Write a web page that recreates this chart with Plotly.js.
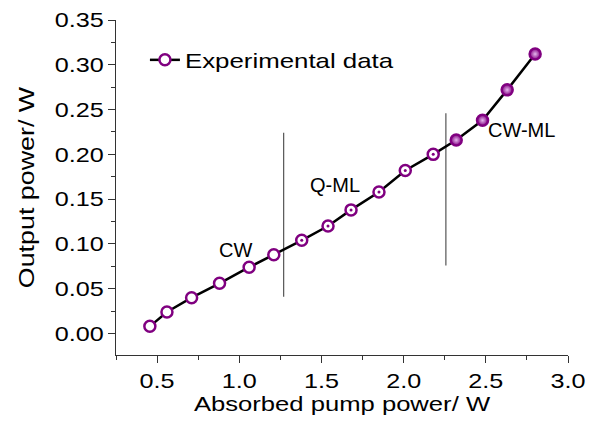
<!DOCTYPE html>
<html>
<head>
<meta charset="utf-8">
<script src="https://cdn.plot.ly/plotly-3.0.1.min.js"></script>
<style>html,body{margin:0;padding:0;background:#fff}#chart{width:596px;height:421px}</style>
</head>
<body>
<div id="chart"></div>
<script>
// Data
const absorbedPump = [0.456, 0.56, 0.71, 0.88, 1.06, 1.21, 1.38, 1.54, 1.68, 1.85, 2.01, 2.18, 2.32, 2.48, 2.63, 2.80];
const outputPower  = [0.008, 0.024, 0.040, 0.056, 0.074, 0.088, 0.104, 0.120, 0.138, 0.158, 0.182, 0.200, 0.216, 0.238, 0.272, 0.312];
const regime       = ['CW','CW','CW','CW','CW','CW','Q-ML','Q-ML','Q-ML','Q-ML','Q-ML','Q-ML','CW-ML','CW-ML','CW-ML','CW-ML'];

const boundaryX     = [1.27, 2.257];
const boundaryYLow  = [0.041, 0.076];
const boundaryYHigh = [0.224, 0.246];

const labelText = ['CW', 'Q-ML', 'CW-ML'];
const labelX    = [0.98, 1.58, 2.72];
const labelY    = [0.093, 0.166, 0.227];

const xTitle = 'Absorbed pump power/ W';
const yTitle = 'Output power/ W';
const seriesName = 'Experimental data';

const PURPLE = '#800080';
const FONT = 'Liberation Sans, Arial, sans-serif';

const fillColors = regime.map(r => r === 'CW-ML' ? PURPLE : '#ffffff');
const gradTypes = regime.map(r => r === 'CW-ML' ? 'radial' : 'none');

const qx = absorbedPump.filter((_, i) => regime[i] === 'Q-ML');
const qy = outputPower.filter((_, i) => regime[i] === 'Q-ML');

const traces = [];
boundaryX.forEach((bx, i) => {
  traces.push({
    x: [bx, bx], y: [boundaryYLow[i], boundaryYHigh[i]],
    mode: 'lines', line: {color: '#555', width: 1.2},
    showlegend: false, hoverinfo: 'skip'
  });
});
traces.push({
  x: absorbedPump, y: outputPower, name: seriesName,
  mode: 'lines+markers',
  line: {color: '#000', width: 2.5},
  marker: {symbol: 'circle', size: 11, color: fillColors,
           gradient: {type: gradTypes, color: '#e6b8ee'},
           line: {color: PURPLE, width: 2.5}}
});
traces.push({
  x: qx, y: qy, mode: 'markers', showlegend: false, hoverinfo: 'skip',
  marker: {symbol: 'circle', size: 3, color: PURPLE}
});

const axisCommon = {
  showline: true, linecolor: '#333', linewidth: 1, mirror: false,
  showgrid: false, zeroline: false,
  tickfont: {family: FONT, size: 21, color: '#000'},
  ticks: 'outside', ticklen: 7, tickcolor: '#333', tickwidth: 1
};

const layout = {
  width: 596, height: 421,
  margin: {l: 116, r: 28, t: 20, b: 66},
  paper_bgcolor: '#fff', plot_bgcolor: '#fff',
  font: {family: FONT, color: '#000'},
  xaxis: Object.assign({}, axisCommon, {
    range: [0.25, 3.0], dtick: 0.5, tick0: 0, tickformat: '.1f',
    minor: {dtick: 0.25, ticks: 'outside', ticklen: 4, tickcolor: '#333'},
    title: {text: xTitle, font: {family: FONT, size: 21, color: '#000'}, standoff: 0}
  }),
  yaxis: Object.assign({}, axisCommon, {
    range: [-0.024, 0.35], dtick: 0.05, tick0: 0, tickformat: '.2f',
    minor: {dtick: 0.025, ticks: 'outside', ticklen: 4, tickcolor: '#333'},
    title: {text: yTitle, font: {family: FONT, size: 22, color: '#000'}, standoff: 22}
  }),
  xaxis2: {
    overlaying: 'x', side: 'top', anchor: 'y', range: [0.25, 3.0], dtick: 0.5, tick0: 0,
    showline: true, linecolor: '#333', linewidth: 1, showgrid: false, zeroline: false,
    ticks: 'inside', ticklen: 5, tickcolor: '#333', showticklabels: false,
    minor: {dtick: 0.25, ticks: 'inside', ticklen: 3, tickcolor: '#333'}
  },
  yaxis2: {
    overlaying: 'y', side: 'right', anchor: 'x', range: [-0.024, 0.35], dtick: 0.05, tick0: 0,
    showline: true, linecolor: '#333', linewidth: 1, showgrid: false, zeroline: false,
    ticks: 'inside', ticklen: 5, tickcolor: '#333', showticklabels: false,
    minor: {dtick: 0.025, ticks: 'inside', ticklen: 3, tickcolor: '#333'}
  },
  showlegend: true,
  legend: {x: 0.064, y: 0.88, xanchor: 'left', yanchor: 'middle',
           bgcolor: 'rgba(0,0,0,0)', font: {family: FONT, size: 21, color: '#000'}},
  annotations: labelText.map((t, i) => ({
    x: labelX[i], y: labelY[i], xref: 'x', yref: 'y', text: t, showarrow: false,
    font: {family: FONT, size: 20, color: '#000'}
  }))
};

Plotly.newPlot('chart', traces, layout, {displayModeBar: false, staticPlot: true}).then(gd => {
  // The reference's axis/legend lettering is horizontally widened; stretch glyphs to match.
  const stretch = (sel, k) => {
    gd.querySelectorAll(sel).forEach(t => {
      const w = t.getComputedTextLength();
      if (w > 0) {
        t.setAttribute('textLength', (w * k).toFixed(1));
        t.setAttribute('lengthAdjust', 'spacingAndGlyphs');
      }
    });
  };
  stretch('.xtick text, .ytick text', 1.2);
  stretch('.xtitle, .ytitle', 1.22);
  stretch('.legendtext', 1.23);
  gd.querySelectorAll('.legend [clip-path]').forEach(el => el.removeAttribute('clip-path'));
});
</script>
</body>
</html>
